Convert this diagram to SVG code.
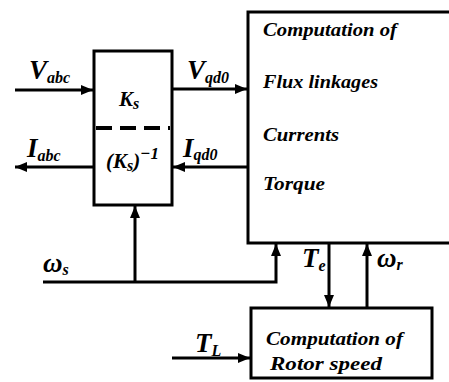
<svg xmlns="http://www.w3.org/2000/svg" width="449" height="382" viewBox="0 0 449 382">
<style>
.box{fill:#fff;stroke:#000;stroke-width:3}
.ln{fill:none;stroke:#000;stroke-width:3}
.lbl{font-family:"Liberation Serif","DejaVu Serif","Times New Roman",serif;font-style:italic;font-weight:bold;fill:#000}
.big{font-size:27px}
.sub{font-size:16px}
.txt{font-family:"Liberation Serif","DejaVu Serif","Times New Roman",serif;font-style:italic;font-weight:bold;font-size:19px;fill:#000}
</style>
<defs>
<marker id="ah" viewBox="0 0 12 10" refX="12" refY="5" markerWidth="12" markerHeight="10" markerUnits="userSpaceOnUse" orient="auto">
<path d="M0,0 L12,5 L0,10 Z" fill="#000"/>
</marker>
</defs>
<rect width="449" height="382" fill="#fff"/>
<g id="connectors">
<line class="ln" x1="15" y1="90" x2="93" y2="90" marker-end="url(#ah)"/>
<line class="ln" x1="172" y1="89" x2="247" y2="89" marker-end="url(#ah)"/>
<line class="ln" x1="94" y1="167" x2="15" y2="167" marker-end="url(#ah)"/>
<line class="ln" x1="248" y1="167" x2="173" y2="167" marker-end="url(#ah)"/>
<polyline class="ln" points="43,282 276,282 276,244" marker-end="url(#ah)"/>
<line class="ln" x1="135" y1="282" x2="135" y2="206" marker-end="url(#ah)"/>
<line class="ln" x1="329" y1="243" x2="329" y2="307" marker-end="url(#ah)"/>
<line class="ln" x1="367" y1="308" x2="367" y2="244" marker-end="url(#ah)"/>
<line class="ln" x1="172" y1="358" x2="250" y2="358" marker-end="url(#ah)"/>
</g>
<g id="transform">
<rect class="box" x="94" y="51" width="78" height="154"/>
<line x1="96" y1="128" x2="170" y2="128" stroke="#000" stroke-width="4" stroke-dasharray="16,8"/>
<text class="lbl" x="119" y="106" font-size="21">K<tspan class="sub" dy="3">s</tspan></text>
<text class="lbl" x="106" y="168" font-size="21">(K<tspan class="sub" dy="3">s</tspan><tspan dy="-3">)</tspan><tspan font-size="17" dy="-9">−1</tspan></text>
</g>
<g id="machine">
<rect class="box" x="248" y="12" width="215" height="231"/>
<text class="txt" x="263" y="36" textLength="134" lengthAdjust="spacingAndGlyphs">Computation of</text>
<text class="txt" x="263" y="88" textLength="115" lengthAdjust="spacingAndGlyphs">Flux linkages</text>
<text class="txt" x="263" y="141" textLength="76" lengthAdjust="spacingAndGlyphs">Currents</text>
<text class="txt" x="263" y="190" textLength="62" lengthAdjust="spacingAndGlyphs">Torque</text>
</g>
<g id="rotor">
<rect class="box" x="251" y="308" width="181" height="70"/>
<text class="txt" x="266" y="345" textLength="137" lengthAdjust="spacingAndGlyphs">Computation of</text>
<text class="txt" x="270" y="370" textLength="112" lengthAdjust="spacingAndGlyphs">Rotor speed</text>
</g>
<g id="labels">
<text class="lbl big" x="29" y="79">V<tspan class="sub" dy="4">abc</tspan></text>
<text class="lbl big" x="27" y="157">I<tspan class="sub" dy="4">abc</tspan></text>
<text class="lbl big" x="187" y="79">V<tspan class="sub" dy="4">qd0</tspan></text>
<text class="lbl big" x="183" y="157">I<tspan class="sub" dy="3">qd0</tspan></text>
<text class="lbl big" x="43" y="272">ω<tspan class="sub" dy="3">s</tspan></text>
<text class="lbl big" x="302" y="267">T<tspan class="sub" dy="4">e</tspan></text>
<text class="lbl big" x="377" y="267">ω<tspan class="sub" dy="3">r</tspan></text>
<text class="lbl big" x="195" y="352">T<tspan class="sub" dy="4">L</tspan></text>
</g>
</svg>
